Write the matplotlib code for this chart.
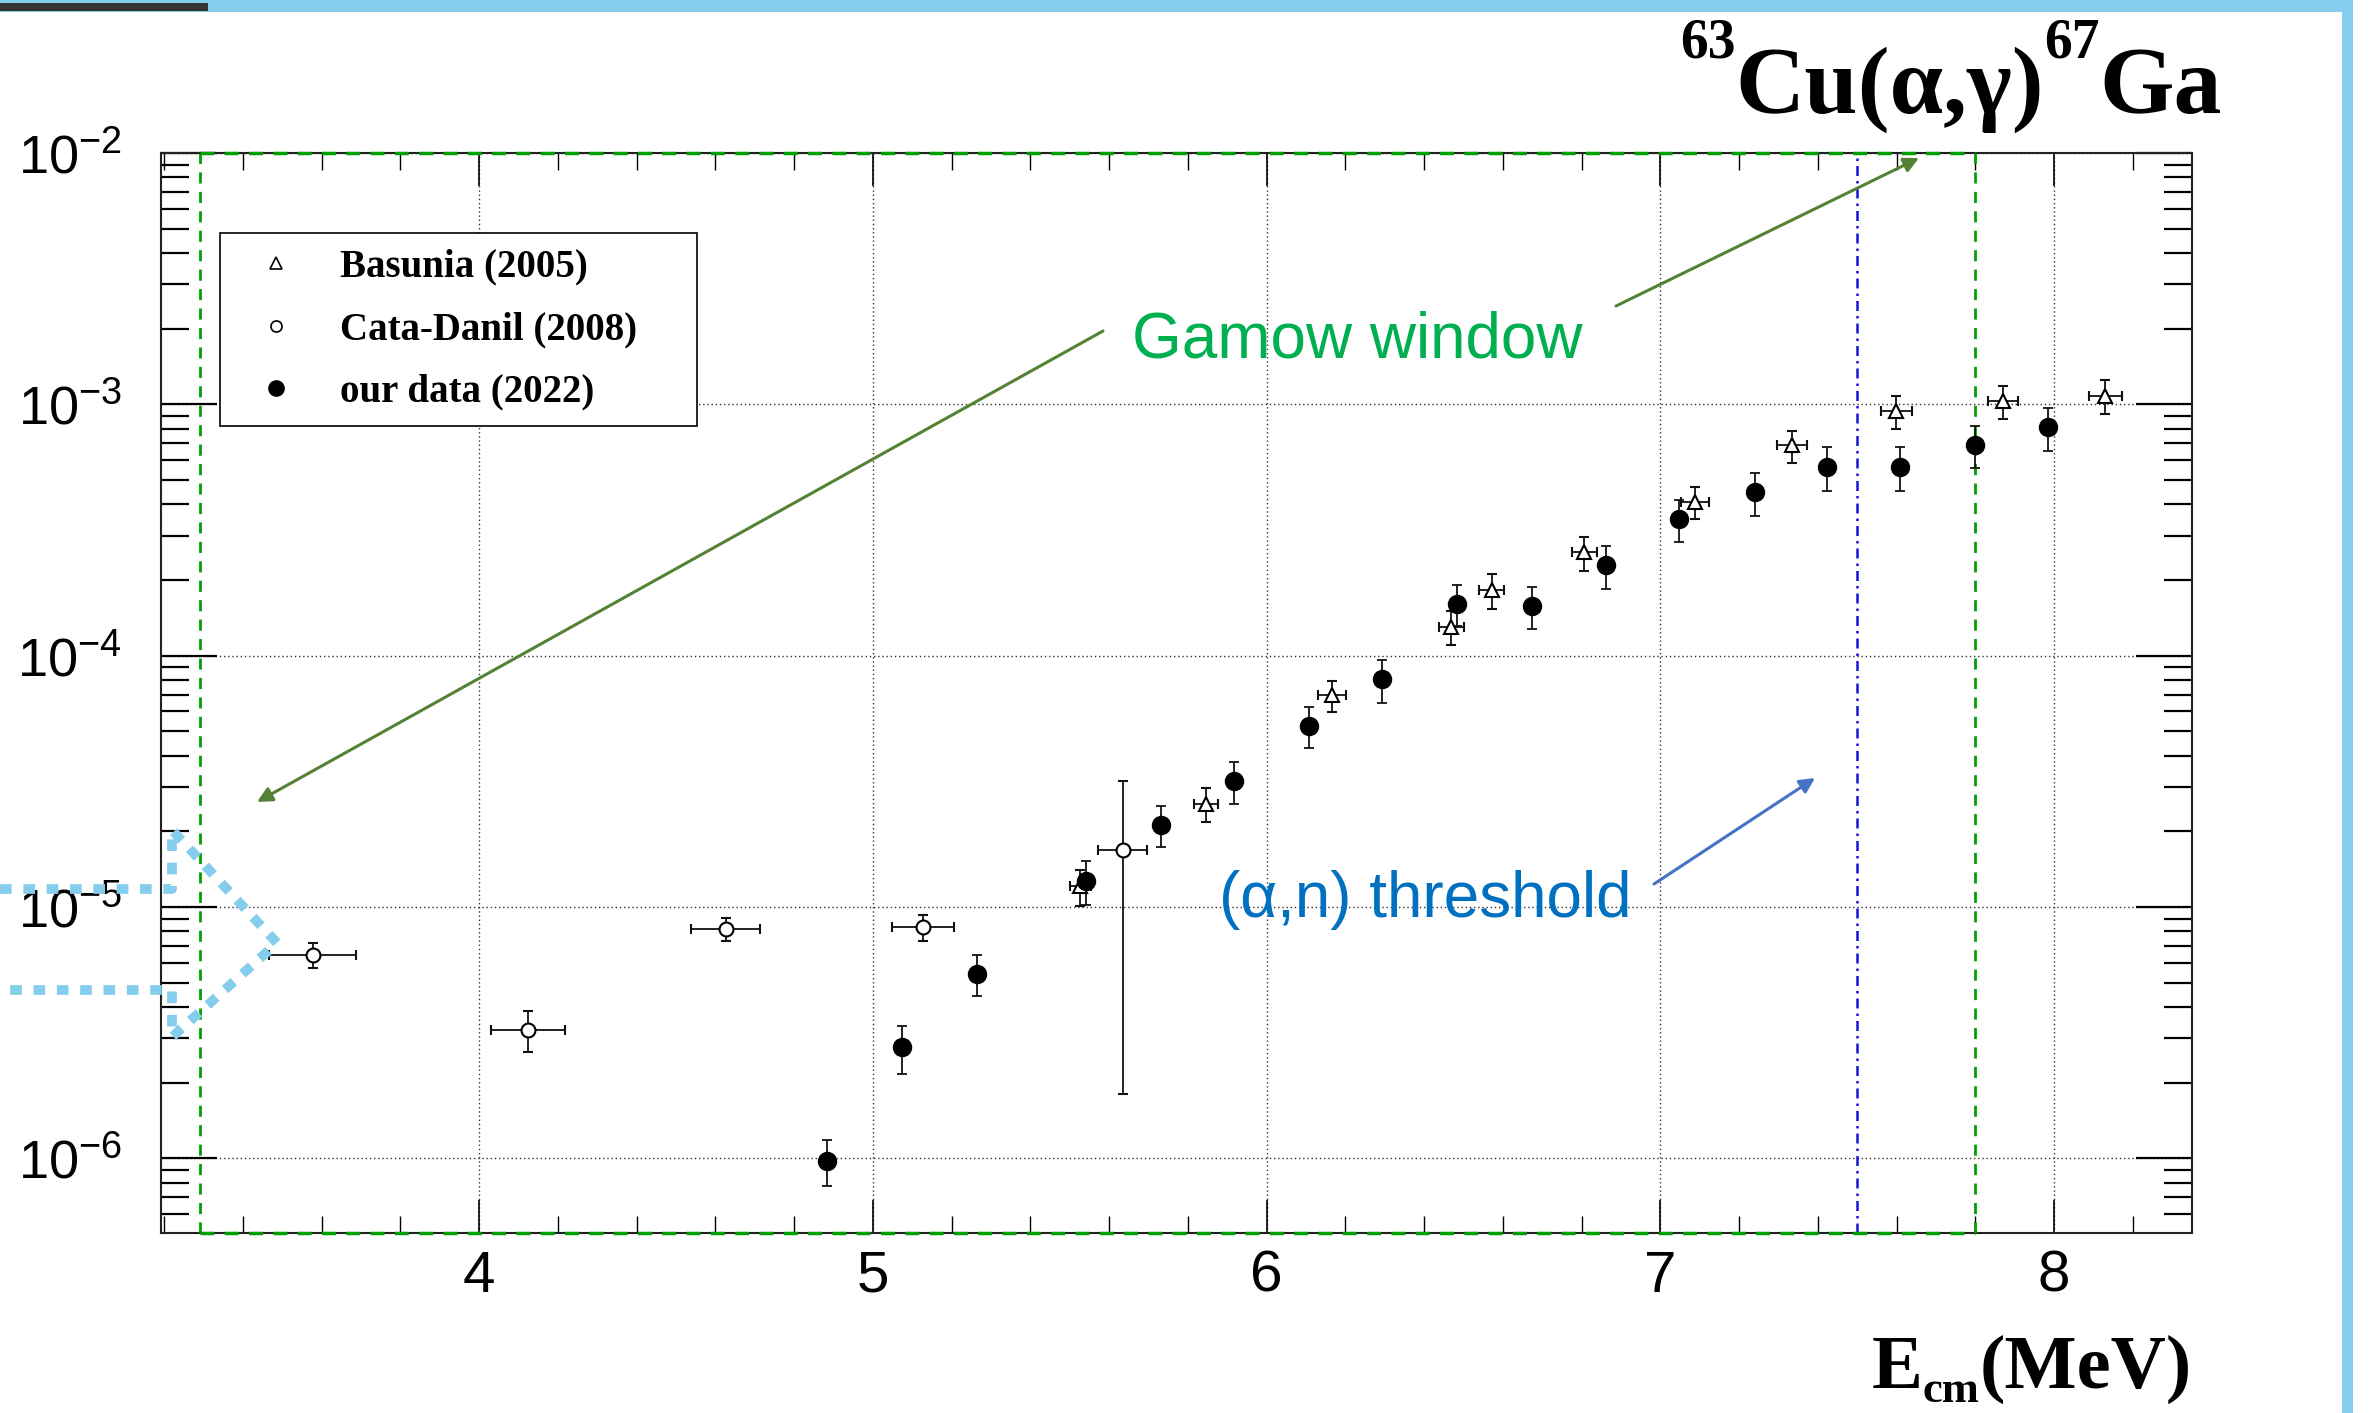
import numpy as np
import matplotlib
matplotlib.use("Agg")
import matplotlib.pyplot as plt
from matplotlib.lines import Line2D
from matplotlib.patches import Rectangle
from matplotlib.ticker import LogLocator, MultipleLocator, FuncFormatter, NullFormatter

# Basunia (2005)
basunia_e = [5.527, 5.846, 6.166, 6.469, 6.571, 6.807, 7.088, 7.334, 7.599, 7.870, 8.130]
basunia_de = [0.027, 0.030, 0.035, 0.032, 0.033, 0.032, 0.036, 0.038, 0.040, 0.037, 0.042]
basunia_s = [1.21e-5, 2.58e-5, 6.95e-5, 1.30e-4, 1.82e-4, 2.58e-4, 4.10e-4, 6.87e-4, 9.38e-4, 1.03e-3, 1.08e-3]
basunia_ds = [0.20e-5, 0.40e-5, 0.96e-5, 0.20e-4, 0.29e-4, 0.40e-4, 0.60e-4, 1.0e-4, 1.4e-4, 1.55e-4, 1.65e-4]

# Cata-Danil (2008)
cata_e = [3.577, 4.124, 4.626, 5.127, 5.634]
cata_de = [0.110, 0.095, 0.088, 0.079, 0.062]
cata_s = [6.45e-6, 3.25e-6, 8.2e-6, 8.3e-6, 1.68e-5]
cata_ds = [0.75e-6, 0.6e-6, 0.85e-6, 1.0e-6, 1.5e-5]

# our data (2022)
ours_e = [4.884, 5.074, 5.264, 5.540, 5.731, 5.916, 6.107, 6.294, 6.484, 6.673,
          6.862, 7.048, 7.239, 7.424, 7.609, 7.799, 7.984]
ours_s = [9.8e-7, 2.77e-6, 5.43e-6, 1.27e-5, 2.13e-5, 3.16e-5, 5.26e-5, 8.05e-5, 1.61e-4, 1.58e-4,
          2.29e-4, 3.51e-4, 4.47e-4, 5.64e-4, 5.64e-4, 6.89e-4, 8.1e-4]
ours_ds = [2.0e-7, 0.6e-6, 1.0e-6, 0.25e-5, 0.4e-5, 0.6e-5, 0.97e-5, 1.55e-5, 0.3e-4, 0.3e-4,
           0.44e-4, 0.67e-4, 0.87e-4, 1.1e-4, 1.1e-4, 1.33e-4, 1.6e-4]

gamow = [3.29, 7.80]
an_threshold = 7.5

W, H = 2377, 1413
plt.rcParams['font.family'] = 'Liberation Sans'
plt.rcParams['mathtext.fontset'] = 'custom'
plt.rcParams['mathtext.rm'] = 'Liberation Sans'
plt.rcParams['mathtext.it'] = 'Liberation Sans:italic'

fig = plt.figure(figsize=(W / 100, H / 100), dpi=100)


def fx(px):
    return px / W


def fy(py):
    return 1 - py / H


ax = fig.add_axes([fx(161), fy(1233), fx(2192 - 161), (1233 - 153) / H])
ax.set_yscale('log')
ax.set_xlim(3.192, 8.35)
ax.set_ylim(5.05e-7, 1e-2)

ax.grid(True, which='major', ls=(0, (1, 2)), color='#333333', lw=1.0)

# Gamow window box and (a,n) threshold
ax.vlines(gamow, 5.05e-7, 1e-2, colors='#00a000', ls=(0, (4, 3)), lw=2.0, zorder=3)
ax.hlines([1e-2, 5.05e-7], gamow[0], gamow[1], colors='#00a000', ls=(0, (4, 3)), lw=2.5,
          zorder=4, clip_on=False)
ax.axvline(an_threshold, color='#1414d8', ls=(0, (4, 2, 1, 2)), lw=1.8, zorder=3)

eb = dict(ls='none', ecolor='#111111', elinewidth=1.3, capsize=3.5, capthick=1.3, zorder=5)
ax.errorbar(basunia_e, basunia_s, xerr=basunia_de, yerr=basunia_ds, marker='^', ms=10,
            mfc='white', mec='black', mew=1.5, **eb)
ax.errorbar(cata_e, cata_s, xerr=cata_de, yerr=cata_ds, marker='o', ms=10,
            mfc='white', mec='black', mew=1.5, **eb)
ax.errorbar(ours_e, ours_s, yerr=ours_ds, marker='o', ms=13,
            mfc='black', mec='black', **eb)

# axis ticks
ax.xaxis.set_major_locator(MultipleLocator(1))
ax.xaxis.set_minor_locator(MultipleLocator(0.2))
ax.yaxis.set_major_locator(LogLocator(base=10, numticks=20))
ax.yaxis.set_minor_locator(LogLocator(base=10, subs=np.arange(2, 10), numticks=20))
ax.yaxis.set_minor_formatter(NullFormatter())
ax.yaxis.set_major_formatter(FuncFormatter(lambda v, p: r'$10^{%d}$' % round(np.log10(v))))
ax.tick_params(which='both', direction='in', top=True, right=True)
ax.tick_params(axis='x', which='major', length=24, width=1.2, labelsize=42, pad=12)
ax.tick_params(axis='x', which='minor', length=12, width=1.0)
ax.tick_params(axis='y', which='major', length=40, width=1.6, labelsize=39, pad=28)
ax.tick_params(axis='y', which='minor', length=20, width=1.6)
for s in ax.spines.values():
    s.set_linewidth(1.5)
    s.set_color('#222222')

handles = [
    Line2D([], [], ls='none', marker='^', ms=8, mfc='white', mec='black', mew=1.2),
    Line2D([], [], ls='none', marker='o', ms=8, mfc='white', mec='black', mew=1.2),
    Line2D([], [], ls='none', marker='o', ms=11, mfc='black', mec='black'),
]
labels = ['Basunia (2005)', 'Cata-Danil (2008)', 'our data (2022)']
leg = ax.legend(handles, labels, loc='upper left', bbox_to_anchor=(0.029, 0.749, 0.235, 0.177),
                mode='expand', prop=dict(family='Liberation Serif', weight='bold', size=28),
                frameon=True, fancybox=False, framealpha=1, edgecolor='black',
                borderpad=0.4, labelspacing=0.66, handlelength=2.1, handletextpad=0.6,
                borderaxespad=0)
leg.get_frame().set_linewidth(1.2)

# title, pieced together with smaller superscripts
tkw = dict(family='Liberation Serif', weight='bold', color='black')
t1 = fig.text(fx(1680), fy(58), '63', size=40, **tkw)
t2 = ax.annotate('Cu(α,γ)', xy=(1, fy(113)), xycoords=(t1, 'figure fraction'), size=69, **tkw)
t3 = ax.annotate('67', xy=(1, fy(58)), xycoords=(t2, 'figure fraction'), size=40, **tkw)
ax.annotate('Ga', xy=(1, fy(113)), xycoords=(t3, 'figure fraction'), size=69, **tkw)

# x axis title E_cm(MeV), right aligned at the frame
x1 = fig.text(fx(2192), fy(1388), '(MeV)', size=55, ha='right', **tkw)
x2 = ax.annotate('cm', xy=(0, fy(1402)), xycoords=(x1, 'figure fraction'), size=32, ha='right', **tkw)
ax.annotate('E', xy=(0, fy(1388)), xycoords=(x2, 'figure fraction'), size=55, ha='right', **tkw)

# annotations
fig.text(fx(1132), fy(357), 'Gamow window', size=46, color='#00b050', family='Liberation Sans')
fig.text(fx(1219), fy(917), '(α,n) threshold', size=46, color='#0070c0', family='Liberation Sans')
akw = dict(arrowstyle='-|>,head_length=0.9,head_width=0.45', lw=2.2, shrinkA=0, shrinkB=0)
ax.annotate('', xy=(fx(257), fy(802)), xytext=(fx(1103), fy(331)), xycoords='figure fraction',
            arrowprops=dict(color='#548235', **akw))
ax.annotate('', xy=(fx(1919), fy(158)), xytext=(fx(1616), fy(306)), xycoords='figure fraction',
            arrowprops=dict(color='#548235', **akw))
ax.annotate('', xy=(fx(1815), fy(778)), xytext=(fx(1654), fy(884)), xycoords='figure fraction',
            arrowprops=dict(color='#4472c4', **akw))

# light blue frame and dotted block arrow outline
sky = '#84cdec'
fig.add_artist(Rectangle((0, fy(12)), fx(2353), 12 / H, transform=fig.transFigure, color=sky, lw=0))
fig.add_artist(Rectangle((fx(2342), 0), fx(11), 1, transform=fig.transFigure, color=sky, lw=0))
fig.add_artist(Rectangle((0, fy(11)), fx(208), 8 / H, transform=fig.transFigure, color='#333333', lw=0))
ox = [0, 172, 172, 277, 172, 172, 0]
oy = [889, 889, 830, 943, 1037, 990, 990]
fig.add_artist(Line2D([fx(v) for v in ox], [fy(v) for v in oy], transform=fig.transFigure,
                      color=sky, lw=7, ls=(0, (1.2, 1.2)), dash_capstyle='butt'))

fig.savefig('out.png', dpi=100)
